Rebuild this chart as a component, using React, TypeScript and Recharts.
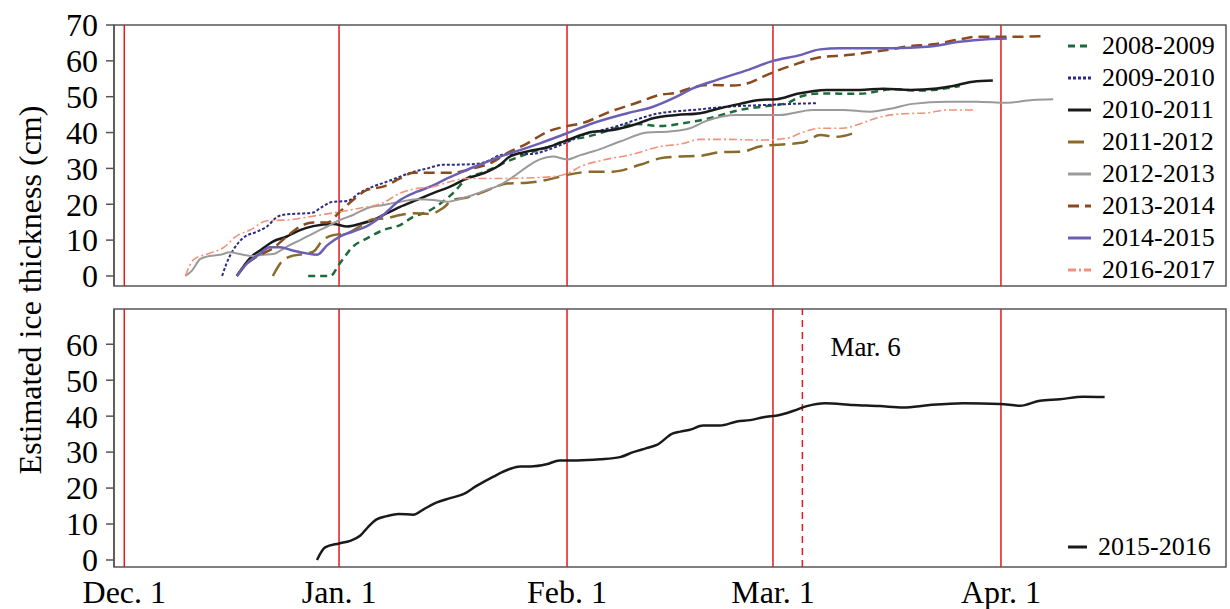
import React from "react";
import {
  Legend,
  Line,
  LineChart,
  ReferenceArea,
  ReferenceLine,
  XAxis,
  YAxis,
} from "recharts";

// x values are days counted from Jan. 1 (negative = December)
const monthTicks = [-29.2, 0, 31, 59, 90];
const monthLabels = ["Dec. 1", "Jan. 1", "Feb. 1", "Mar. 1", "Apr. 1"];
const topTicks = [0, 10, 20, 30, 40, 50, 60, 70];
const bottomTicks = [0, 10, 20, 30, 40, 50, 60];
const markDay = 63;
const markLabel = "Mar. 6";

const days0809 = [-4.2, -1.2, 0.1, 1.9, 3.8, 6.0, 8.3, 10.1, 12.0, 13.7, 15.5, 17.4, 19.2, 20.9, 22.8, 24.6, 26.4, 28.7, 31.0, 33.7, 36.8, 40.5, 43.6, 46.8, 50.4, 54.5, 58.2, 60.9, 62.7, 65.4, 70.8, 75.3, 79.0, 81.7, 84.4];
const ice0809 = [0, 0, 3.5, 8.2, 10.5, 12.8, 14.2, 16.5, 17.9, 20.1, 23.1, 27.2, 28.6, 30, 31.9, 33.3, 34.7, 36.1, 37.9, 38.8, 40.7, 42.4, 41.8, 42.6, 44, 46.3, 47.4, 48.2, 50, 50.9, 50.8, 52.1, 51.7, 52.1, 53];

const days0910 = [-15.9, -15.3, -14.4, -13.1, -11.1, -9.8, -8.4, -7.1, -5.3, -3.5, -2.6, -0.8, 1.1, 2.8, 4.6, 6.5, 8.3, 9.7, 12.0, 14.1, 17.4, 19.2, 20.5, 21.9, 23.7, 26.0, 28.3, 31.0, 33.4, 36.8, 43.6, 48.1, 52.7, 58.2, 61.7, 65.0];
const ice0910 = [0, 3.5, 7.2, 10.5, 12.4, 13.8, 16.5, 17.2, 17.4, 17.7, 18.9, 20.7, 20.9, 23.2, 24.9, 26.3, 27.7, 28.8, 30, 31, 31.1, 31.4, 32.3, 33.7, 34, 34, 35.1, 37.3, 39.5, 41.2, 45.4, 46.3, 47.2, 47.7, 48, 48.2];

const days1011 = [-13.9, -11.9, -10.7, -9.0, -7.1, -5.3, -3.5, -0.8, 1.1, 2.8, 4.6, 6.5, 8.3, 10.6, 12.8, 15.1, 17.4, 19.6, 21.9, 23.2, 25.6, 28.7, 31.0, 34.5, 37.2, 40.0, 42.7, 45.9, 49.1, 51.8, 54.5, 57.2, 59.5, 62.3, 66.3, 70.8, 74.0, 77.6, 81.3, 83.5, 86.2, 88.9];
const ice1011 = [0, 5.4, 7.2, 9.6, 11, 12.8, 13.9, 14.5, 13.8, 14.5, 15.6, 17.5, 19.3, 21.2, 23.1, 24.9, 27.2, 28.6, 31, 33.3, 34.7, 36.1, 37.9, 40.2, 40.7, 42.1, 44, 44.9, 45.4, 46.8, 48, 49.1, 49.3, 50.8, 51.9, 51.9, 52.2, 51.9, 52.3, 53, 54.2, 54.5];

const days1112 = [-9.0, -8.0, -6.7, -4.9, -3.5, -2.2, -0.8, 1.1, 2.8, 4.6, 6.5, 8.3, 10.1, 12.4, 14.1, 15.5, 17.4, 19.2, 20.9, 22.8, 25.6, 28.3, 31.0, 34.5, 37.2, 40.9, 43.6, 45.9, 49.1, 51.8, 54.9, 57.2, 60.9, 63.1, 65.4, 67.7, 69.9];
const ice1112 = [0, 3.5, 5.4, 6.1, 6.8, 10, 11.4, 11.9, 13.8, 15.8, 16.1, 17, 17.5, 17.3, 18.9, 21.2, 21.9, 23.1, 24.5, 25.8, 26, 26.8, 28.2, 29.1, 29.1, 31, 32.8, 33.3, 33.5, 34.5, 34.7, 36.1, 36.8, 37.2, 39.3, 38.8, 39.8];

const days1213 = [-20.9, -20.0, -18.9, -18.0, -16.2, -14.8, -13.5, -11.7, -10.3, -9.0, -7.1, -5.3, -3.5, -1.6, 0.1, 1.9, 3.8, 6.0, 8.3, 10.6, 12.8, 14.7, 16.4, 18.2, 20.1, 21.9, 23.7, 25.6, 27.3, 29.1, 31.0, 32.8, 34.5, 38.2, 41.9, 45.0, 47.7, 50.0, 54.1, 59.9, 64.4, 68.5, 72.2, 75.3, 78.0, 82.7, 86.7, 90.8, 94.3, 97.1];
const ice1213 = [0, 1.5, 4.7, 5.4, 5.9, 6.6, 6.1, 5.6, 5.9, 6.1, 8.2, 10, 11.9, 13.8, 15.6, 17, 18.9, 19.8, 20.7, 21.4, 21.2, 20.7, 21.4, 22.6, 24, 25.4, 27.7, 30.5, 32.5, 33.3, 32.5, 33.7, 34.7, 37.5, 40, 40.3, 41.2, 43.3, 44.9, 44.9, 46.3, 46.3, 45.8, 46.8, 48, 48.6, 48.6, 48.3, 49.1, 49.3];

const days1314 = [-13.9, -12.5, -10.7, -9.0, -7.1, -5.3, -3.5, -1.6, 0.1, 1.9, 3.8, 6.0, 8.3, 10.1, 12.8, 15.5, 18.2, 20.5, 22.8, 25.6, 28.3, 31.0, 33.2, 36.8, 40.5, 43.6, 45.9, 48.1, 50.4, 53.6, 55.5, 58.2, 61.7, 65.4, 69.1, 71.8, 74.5, 77.6, 80.8, 84.4, 86.7, 91.2, 96.2];
const ice1314 = [0, 3.5, 5.9, 7.7, 11, 13.8, 14.9, 14.9, 17.9, 21.2, 24, 24.9, 27.2, 28.8, 28.8, 28.8, 30, 31.4, 34.2, 37, 40.2, 41.8, 42.7, 45.8, 48.3, 50.5, 51.1, 52.6, 53.3, 53.1, 53.7, 56.1, 58.8, 61, 61.6, 62.3, 63, 64.1, 64.6, 66, 66.7, 66.7, 66.9];

const days1415 = [-13.9, -12.5, -10.7, -9.4, -8.0, -6.3, -4.4, -3.0, -1.6, 0.1, 1.9, 3.8, 6.0, 8.3, 10.6, 12.4, 14.7, 17.4, 19.6, 21.9, 24.6, 27.3, 31.0, 34.5, 39.2, 42.7, 45.9, 48.1, 51.4, 55.5, 59.0, 62.7, 65.4, 68.1, 75.3, 79.9, 84.4, 88.1, 90.8];
const ice1415 = [0, 3.5, 6.3, 8, 8, 7.1, 6.3, 5.9, 8.6, 11, 12.4, 13.9, 17, 21.2, 23.5, 24.9, 27.2, 29.6, 31.4, 33.3, 35.1, 37, 39.8, 42.6, 45.4, 47.2, 50, 52.3, 54.7, 57.4, 60, 61.6, 63.2, 63.5, 63.5, 63.9, 65.3, 66, 66.2];

const days1617 = [-20.9, -19.8, -17.5, -15.8, -13.9, -12.1, -9.8, -7.1, -3.5, 0.1, 2.8, 6.0, 8.3, 10.6, 12.8, 15.1, 17.4, 21.9, 26.4, 29.1, 31.0, 32.8, 35.9, 40.0, 43.6, 46.4, 49.1, 52.7, 57.2, 60.9, 62.7, 65.4, 68.5, 70.8, 73.5, 76.3, 79.9, 82.7, 86.2];
const ice1617 = [0, 4.5, 6.4, 7.8, 11.2, 12.8, 15.4, 15.6, 16.7, 17.9, 18.9, 20.4, 23.1, 24.4, 24.9, 26.3, 27.2, 27.2, 27.4, 27.7, 28.5, 30.5, 32.3, 34, 36.1, 36.8, 38.1, 38.1, 37.9, 38.4, 39.8, 41.2, 41.2, 42.4, 44.3, 45.2, 45.5, 46.3, 46.3];

const days1516 = [-3.0, -1.9, 0.0, 1.5, 2.9, 4.0, 5.1, 6.5, 8.1, 10.1, 11.5, 13.3, 15.1, 16.9, 18.7, 21.0, 23.2, 24.6, 26.0, 28.2, 30.0, 32.3, 35.5, 38.2, 40.0, 41.8, 43.2, 45.4, 46.4, 47.7, 49.5, 51.8, 54.1, 55.9, 57.7, 59.9, 61.8, 63.6, 66.1, 69.9, 73.5, 76.7, 80.3, 84.9, 89.9, 92.6, 95.3, 98.0, 101.2, 104.1];
const ice1516 = [0, 3.5, 4.6, 5.3, 6.8, 9.3, 11.3, 12.2, 12.8, 12.6, 14.1, 16, 17.2, 18.3, 20.6, 23.2, 25.3, 26, 26, 26.6, 27.7, 27.7, 28, 28.6, 30, 31.1, 32, 35.2, 35.7, 36.2, 37.4, 37.4, 38.5, 38.9, 39.7, 40.3, 41.5, 42.8, 43.6, 43.1, 42.8, 42.4, 43.1, 43.6, 43.4, 42.9, 44.3, 44.7, 45.4, 45.3];

const toPoints = (days: number[], vals: number[]) =>
  days.map((d, i) => ({ day: d, ice: vals[i] }));

const topSeries = [
  { name: "2008-2009", days: days0809, vals: ice0809, color: "#1d6b38", width: 2.5, dash: "7 5" },
  { name: "2009-2010", days: days0910, vals: ice0910, color: "#2b2b86", width: 2, dash: "3 2" },
  { name: "2010-2011", days: days1011, vals: ice1011, color: "#1a1a1a", width: 2.5, dash: undefined },
  { name: "2011-2012", days: days1112, vals: ice1112, color: "#8a6a2a", width: 2.5, dash: "16 7" },
  { name: "2012-2013", days: days1213, vals: ice1213, color: "#9a9a9a", width: 2, dash: undefined },
  { name: "2013-2014", days: days1314, vals: ice1314, color: "#8b4a1e", width: 2.5, dash: "11 6" },
  { name: "2014-2015", days: days1415, vals: ice1415, color: "#6a5fb3", width: 2.5, dash: undefined },
  { name: "2016-2017", days: days1617, vals: ice1617, color: "#f0917a", width: 1.6, dash: "8 3 2 3" },
];

const bottomSeries = [
  { name: "2015-2016", days: days1516, vals: ice1516, color: "#1a1a1a", width: 2.5, dash: undefined },
];

const xDomain = [-30.6, 120.6];
const frame = "#555";
const red = "#e41a1c";
const font = '"Liberation Serif", "Times New Roman", serif';

type S = (typeof topSeries)[number];

const legendContent = (items: S[], sample: number) => () => (
  <div style={{ fontFamily: font }}>
    {items.map((s) => (
      <div key={s.name} style={{ display: "flex", alignItems: "center", height: 32 }}>
        <svg width={sample} height={6}>
          <line x1={0} y1={3} x2={sample} y2={3} stroke={s.color} strokeWidth={3} strokeDasharray={s.dash} />
        </svg>
        <span style={{ marginLeft: 11, fontSize: 26, color: "#000", lineHeight: "32px" }}>{s.name}</span>
      </div>
    ))}
  </div>
);

function Panel({
  series,
  height,
  margin,
  yDomain,
  ticks,
  showX,
  legendTop,
  sample,
  mark,
}: {
  series: S[];
  height: number;
  margin: { top: number; right: number; bottom: number; left: number };
  yDomain: number[];
  ticks: number[];
  showX: boolean;
  legendTop: number;
  sample: number;
  mark?: boolean;
}) {
  return (
    <LineChart width={1230} height={height} margin={margin}>
      <XAxis
        type="number"
        dataKey="day"
        domain={xDomain}
        allowDataOverflow
        ticks={monthTicks}
        tickFormatter={(v) => monthLabels[monthTicks.indexOf(v)]}
        hide={!showX}
        height={42}
        axisLine={false}
        tickLine={false}
        tickSize={8}
        tickMargin={5}
        tick={{ fontSize: 32, fill: "#000" }}
        interval={0}
      />
      <YAxis
        type="number"
        domain={yDomain}
        allowDataOverflow
        ticks={ticks}
        width={114}
        interval={0}
        tickSize={8}
        tickMargin={8}
        axisLine={{ stroke: frame, strokeWidth: 1.5 }}
        tickLine={{ stroke: frame, strokeWidth: 1.5 }}
        tick={{ fontSize: 32, fill: "#000" }}
      />
      {monthTicks.map((d) => (
        <ReferenceLine key={d} x={d} stroke={red} strokeWidth={1.5} />
      ))}
      {mark && (
        <ReferenceLine
          x={markDay}
          stroke={red}
          strokeWidth={1.5}
          strokeDasharray="7 5"
          label={{ value: markLabel, position: "insideTopLeft", offset: 28, fontSize: 27, fill: "#000" }}
        />
      )}
      <ReferenceArea
        x1={xDomain[0]}
        x2={xDomain[1]}
        y1={yDomain[0]}
        y2={yDomain[1]}
        fill="none"
        fillOpacity={0}
        stroke={frame}
        strokeWidth={1.5}
      />
      {series.map((s) => (
        <Line
          key={s.name}
          data={toPoints(s.days, s.vals)}
          dataKey="ice"
          name={s.name}
          type="monotone"
          stroke={s.color}
          strokeWidth={s.width}
          strokeDasharray={s.dash}
          dot={false}
          activeDot={false}
          isAnimationActive={false}
        />
      ))}
      <Legend
        layout="horizontal"
        align="center"
        verticalAlign="middle"
        wrapperStyle={{ position: "absolute", left: 1068, top: legendTop, width: 160, height: "auto" }}
        content={legendContent(series, sample)}
      />
    </LineChart>
  );
}

export default function App() {
  return (
    <div
      style={{
        position: "absolute",
        left: 0,
        top: 0,
        width: 1230,
        height: 609,
        background: "#fff",
        fontFamily: font,
        overflow: "hidden",
      }}
    >
      <div style={{ position: "absolute", left: 0, top: 0 }}>
        <Panel
          series={topSeries}
          height={300}
          margin={{ top: 25, right: 4, bottom: 14, left: 0 }}
          yDomain={[-2.8, 70]}
          ticks={topTicks}
          showX={false}
          legendTop={30}
          sample={23}
        />
      </div>
      <div style={{ position: "absolute", left: 0, top: 300 }}>
        <Panel
          series={bottomSeries}
          height={309}
          margin={{ top: 9, right: 4, bottom: 0, left: 0 }}
          yDomain={[-1.95, 69.8]}
          ticks={bottomTicks}
          showX
          legendTop={231}
          sample={19}
          mark
        />
      </div>
      <div
        style={{
          position: "absolute",
          left: 30,
          top: 290,
          transform: "translate(-50%, -50%) rotate(-90deg)",
          whiteSpace: "nowrap",
          fontSize: 32,
          color: "#000",
        }}
      >
        Estimated ice thickness (cm)
      </div>
    </div>
  );
}
